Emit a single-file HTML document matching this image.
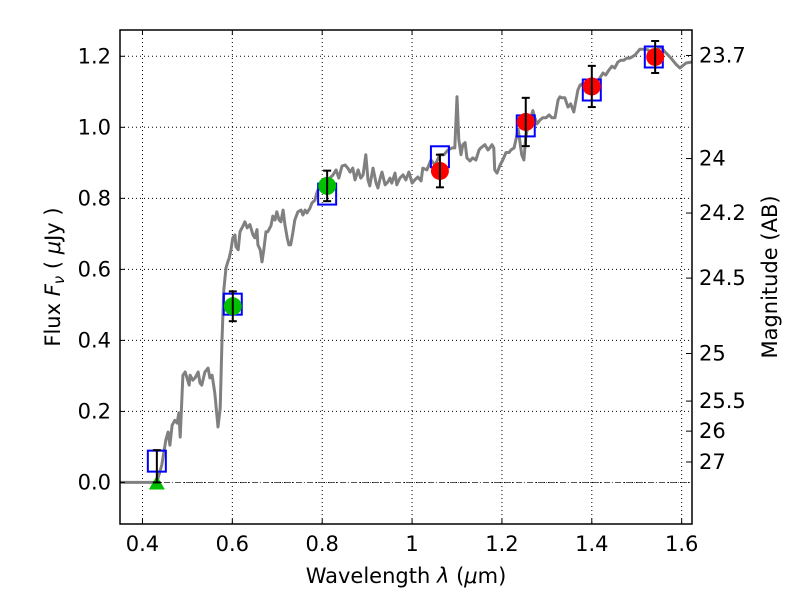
<!DOCTYPE html>
<html><head><meta charset="utf-8"><style>
html,body{margin:0;padding:0;background:#fff;}
svg{display:block;font-family:"DejaVu Sans","Liberation Sans",sans-serif;}
</style></head><body>
<svg id="chart" width="800" height="600" viewBox="0 0 800 600" xmlns="http://www.w3.org/2000/svg">
<rect x="0" y="0" width="800" height="600" fill="#fff"/>
<g id="grid"></g>
<g id="plot" clip-path="url(#clip)"></g>
<defs><clipPath id="clip"><rect x="120" y="30" width="572" height="494"/></clipPath></defs>
<rect x="120" y="30" width="572" height="494" fill="none" stroke="#000" stroke-width="1.5"/>
<g id="axes"></g>
<text x="406" y="583" font-size="21" text-anchor="middle">Wavelength  <tspan font-style="italic">λ</tspan> (<tspan font-style="italic">μ</tspan>m)</text>
<text transform="translate(60,277) rotate(-90)" font-size="21" text-anchor="middle">Flux  <tspan font-style="italic">F</tspan><tspan font-style="italic" font-size="15" dy="4">ν</tspan><tspan dy="-4">  ( </tspan><tspan font-style="italic">μ</tspan>Jy )</text>
<text transform="translate(777,277) rotate(-90)" font-size="21" text-anchor="middle">Magnitude (AB)</text>
</svg>
<script>
const specWl=[0.350,0.417,0.432,0.443,0.452,0.457,0.461,0.466,0.472,0.477,0.481,0.484,0.490,0.495,0.499,0.504,0.506,0.512,0.517,0.524,0.528,0.532,0.539,0.546,0.550,0.555,0.561,0.568,0.573,0.577,0.581,0.586,0.590,0.593,0.597,0.601,0.606,0.608,0.613,0.617,0.624,0.628,0.633,0.639,0.646,0.650,0.655,0.657,0.662,0.666,0.670,0.675,0.679,0.686,0.690,0.695,0.699,0.704,0.708,0.713,0.717,0.722,0.726,0.730,0.735,0.739,0.746,0.753,0.757,0.762,0.766,0.773,0.777,0.784,0.788,0.795,0.799,0.806,0.811,0.817,0.824,0.831,0.837,0.844,0.851,0.857,0.862,0.868,0.873,0.880,0.886,0.891,0.897,0.902,0.906,0.913,0.920,0.924,0.929,0.933,0.940,0.946,0.951,0.955,0.962,0.966,0.973,0.980,0.986,0.993,1.000,1.006,1.013,1.020,1.024,1.033,1.042,1.051,1.062,1.071,1.080,1.089,1.095,1.100,1.104,1.109,1.113,1.118,1.122,1.129,1.135,1.142,1.149,1.153,1.162,1.169,1.173,1.178,1.182,1.184,1.189,1.196,1.202,1.209,1.216,1.220,1.227,1.231,1.236,1.240,1.244,1.249,1.253,1.258,1.264,1.269,1.273,1.278,1.285,1.291,1.298,1.305,1.311,1.318,1.325,1.329,1.333,1.340,1.347,1.353,1.360,1.369,1.374,1.378,1.387,1.394,1.400,1.407,1.414,1.425,1.431,1.438,1.445,1.451,1.458,1.465,1.471,1.478,1.485,1.496,1.507,1.518,1.525,1.534,1.541,1.549,1.554,1.563,1.570,1.576,1.587,1.596,1.601,1.610,1.623];
const specFlux=[0,0,0,0.049,0.119,0.142,0.105,0.161,0.175,0.167,0.196,0.128,0.302,0.311,0.294,0.274,0.302,0.288,0.294,0.311,0.280,0.274,0.311,0.322,0.294,0.302,0.252,0.156,0.209,0.401,0.542,0.604,0.621,0.632,0.655,0.689,0.697,0.664,0.655,0.706,0.723,0.734,0.717,0.726,0.697,0.689,0.712,0.669,0.655,0.621,0.655,0.706,0.706,0.723,0.750,0.739,0.762,0.739,0.734,0.767,0.726,0.689,0.669,0.669,0.706,0.739,0.762,0.767,0.753,0.767,0.759,0.773,0.787,0.795,0.815,0.838,0.846,0.852,0.843,0.857,0.866,0.880,0.857,0.891,0.894,0.885,0.874,0.885,0.852,0.880,0.857,0.866,0.923,0.852,0.835,0.885,0.843,0.829,0.857,0.874,0.838,0.846,0.857,0.843,0.871,0.838,0.857,0.866,0.852,0.874,0.843,0.852,0.860,0.849,0.885,0.880,0.908,0.894,0.923,0.923,0.936,0.942,0.942,1.086,0.965,0.923,0.951,0.957,0.914,0.905,0.914,0.908,0.936,0.942,0.951,0.936,0.942,0.951,0.942,0.880,0.871,0.894,0.908,0.929,0.929,0.936,0.942,0.965,0.994,0.960,0.923,0.908,0.970,1.007,1.027,1.047,1.027,1.010,1.021,1.027,1.027,1.035,1.027,1.027,1.077,1.086,1.083,1.083,1.057,1.066,1.043,1.105,1.119,1.122,1.099,1.105,1.119,1.133,1.131,1.153,1.147,1.161,1.172,1.167,1.184,1.189,1.189,1.195,1.195,1.203,1.220,1.220,1.218,1.203,1.212,1.223,1.226,1.212,1.203,1.195,1.178,1.167,1.172,1.181,1.184];
const modelWl=[0.432,0.601,0.811,1.062,1.253,1.400,1.538];
const modelFlux=[0.060,0.502,0.812,0.917,1.004,1.105,1.198];
const greenWl=[0.601,0.811];
const greenFlux=[0.496,0.835];
const greenErr=[0.042,0.043];
const redWl=[1.062,1.253,1.400,1.541];
const redFlux=[0.877,1.015,1.115,1.198];
const redErr=[0.046,0.068,0.058,0.045];
const limitWl=[0.432];
const limitFlux=[0.0];
const limitTop=[0.091];
const xTicks=[0.4,0.6,0.8,1.0,1.2,1.4,1.6];
const xTickLabels=["0.4","0.6","0.8","1","1.2","1.4","1.6"];
const yTicks=[0,0.2,0.4,0.6,0.8,1.0,1.2];
const yTickLabels=["0.0","0.2","0.4","0.6","0.8","1.0","1.2"];
const magTicks=[23.7,24,24.2,24.5,25,25.5,26,27];
const magTickLabels=["23.7","24","24.2","24.5","25","25.5","26","27"];

const X0=120,X1=692,Y0=524,Y1=30,xmin=0.35,xmax=1.623,ymin=-0.117,ymax=1.274;
function xs(v){return X0+(v-xmin)/(xmax-xmin)*(X1-X0);}
function ys(v){return Y0-(v-ymin)/(ymax-ymin)*(Y0-Y1);}
const NS="http://www.w3.org/2000/svg";
function mk(tag,attrs,parent){const e=document.createElementNS(NS,tag);for(const k in attrs)e.setAttribute(k,attrs[k]);parent.appendChild(e);return e;}
const grid=document.getElementById('grid'),plot=document.getElementById('plot'),axes=document.getElementById('axes');

xTicks.forEach((t,i)=>{
 const x=xs(t);
 const g=mk('line',{x1:x,x2:x,y1:Y1,y2:Y0,stroke:'#000','stroke-width':1,'stroke-dasharray':'1,3'},grid);
 
 
 const tk=mk('line',{x1:x,x2:x,y1:Y0,y2:Y0-5,stroke:'#000','stroke-width':1},axes);
 
 
 const tk2=mk('line',{x1:x,x2:x,y1:Y1,y2:Y1+5,stroke:'#000','stroke-width':1},axes);
 
 
 const lb=mk('text',{x:x,y:Y0+27,'font-size':21,'text-anchor':'middle'},axes);
 lb.textContent=xTickLabels[i];
 
 
});
yTicks.forEach((t,i)=>{
 const y=ys(t);
 const g=mk('line',{x1:X0,x2:X1,y1:y,y2:y,stroke:'#000','stroke-width':1,'stroke-dasharray':'1,3'},grid);
 
 
 const tk=mk('line',{x1:X0,x2:X0+5,y1:y,y2:y,stroke:'#000','stroke-width':1},axes);
 
 
 const lb=mk('text',{x:X0-9,y:y+7,'font-size':21,'text-anchor':'end'},axes);
 lb.textContent=yTickLabels[i];
 
 
});
magTicks.forEach((m,i)=>{
 const f=Math.pow(10,(23.9-m)/2.5);
 const y=ys(f);
 const tk=mk('line',{x1:X1,x2:X1-6,y1:y,y2:y,stroke:'#000','stroke-width':1},axes);
 
 
 const lb=mk('text',{x:X1+7,y:y+7,'font-size':21,'text-anchor':'start'},axes);
 lb.textContent=magTickLabels[i];
 
 
});
const zl=mk('line',{x1:X0,x2:X1,y1:ys(0),y2:ys(0),stroke:'#555','stroke-width':1,'stroke-dasharray':'6,2,1,2'},plot);


let d='';
specWl.forEach((w,i)=>{d+=(i?'L':'M')+xs(w).toFixed(1)+','+ys(specFlux[i]).toFixed(1);});
const sp=mk('path',{d:d,fill:'none',stroke:'#808080','stroke-width':3,'stroke-linejoin':'round'},plot);


function errbar(x,lo,hi,name){
 const g=mk('g',{stroke:'#000','stroke-width':2},plot);
 
 
 mk('line',{x1:x,x2:x,y1:ys(lo),y2:ys(hi)},g);
 mk('line',{x1:x-4,x2:x+4,y1:ys(lo),y2:ys(lo)},g);
 mk('line',{x1:x-4,x2:x+4,y1:ys(hi),y2:ys(hi)},g);
}
modelWl.forEach((w,i)=>{
 const r=mk('rect',{x:xs(w)-9,y:ys(modelFlux[i])-10.5,width:18,height:21,fill:'none',stroke:'#0000ff','stroke-width':2},plot);
 
 
});
limitWl.forEach((w,i)=>{
 const x=xs(w),y=ys(limitFlux[i]);
 const t=mk('polygon',{points:`${x-8},${y+7} ${x+8},${y+7} ${x},${y-7}`,fill:'#00c000'},plot);
 
 
 errbar(x,limitFlux[i],limitTop[i],'upper-limit-errorbar');
});
greenWl.forEach((w,i)=>{
 const c=mk('circle',{cx:xs(w),cy:ys(greenFlux[i]),r:9,fill:'#00c000'},plot);
 
 
 errbar(xs(w),greenFlux[i]-greenErr[i],greenFlux[i]+greenErr[i],'optical-errorbar');
});
redWl.forEach((w,i)=>{
 const c=mk('circle',{cx:xs(w),cy:ys(redFlux[i]),r:9,fill:'#ff0000'},plot);
 
 
 errbar(xs(w),redFlux[i]-redErr[i],redFlux[i]+redErr[i],'ir-errorbar');
});
</script>
</body></html>
